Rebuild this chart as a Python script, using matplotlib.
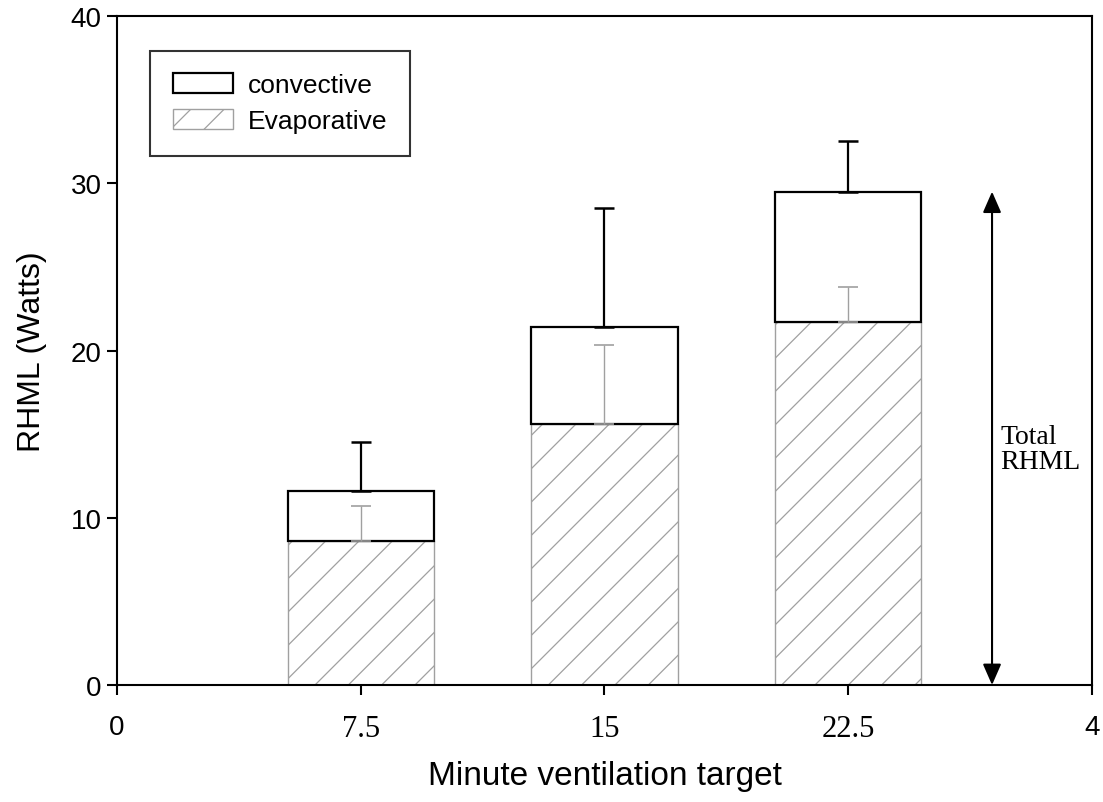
import matplotlib
matplotlib.use("Agg")
import matplotlib.pyplot as plt
from matplotlib.patches import FancyArrowPatch
import numpy as np

# Data
categories = ["7.5", "15", "22.5"]
evaporative = [8.6, 15.6, 21.7]
evaporative_err = [2.1, 4.7, 2.1]
total = [11.6, 21.4, 29.5]
total_err = [2.9, 7.1, 3.0]
convective = [t - e for t, e in zip(total, evaporative)]

SANS = "Liberation Sans"
SERIF = "Liberation Serif"
plt.rcParams["font.family"] = SANS
plt.rcParams["hatch.linewidth"] = 0.9

fig = plt.figure(figsize=(11.03, 8.03), dpi=100)
ax = fig.add_axes([0.1061, 0.1457, 0.8839, 0.8331])

x = np.arange(1, len(categories) + 1)
width = 0.6
grey = "#a0a0a0"

ax.bar(x, evaporative, width, color="white", edgecolor=grey, hatch="/",
       linewidth=1.0, label="Evaporative", zorder=2)
ax.bar(x, convective, width, bottom=evaporative, color="white",
       edgecolor="black", linewidth=1.6, label="convective", zorder=2)

ax.errorbar(x, evaporative, yerr=[np.zeros(len(x)), evaporative_err],
            fmt="none", ecolor=grey, elinewidth=1.0, capsize=7.5,
            capthick=1.2, zorder=3)
ax.errorbar(x, total, yerr=[np.zeros(len(x)), total_err], fmt="none",
            ecolor="black", elinewidth=1.6, capsize=7.5, capthick=1.8,
            zorder=3)

ax.set_xlim(0, 4)
ax.set_ylim(0, 40)
ax.set_yticks([0, 10, 20, 30, 40])
ax.set_xticks([0, 1, 2, 3, 4])
ax.set_xticklabels(["0"] + categories + ["4"])
for i, lab in enumerate(ax.get_xticklabels()):
    if 1 <= i <= len(categories):
        lab.set_fontfamily(SERIF)
        lab.set_fontsize(22)
    else:
        lab.set_fontsize(20)
ax.tick_params(axis="y", labelsize=20, length=7, width=1.5, direction="out", pad=4)
ax.tick_params(axis="x", length=7, width=1.5, direction="out", pad=14)
for s in ax.spines.values():
    s.set_linewidth(1.5)

ax.set_ylabel("RHML (Watts)", fontsize=23, labelpad=17)
ax.set_xlabel("Minute ventilation target", fontsize=24, labelpad=12)

# Total-load arrow beside the last bar
arrow = FancyArrowPatch((3.59, 0), (3.59, total[-1]),
                        arrowstyle="<|-|>,head_length=0.8,head_width=0.35",
                        mutation_scale=16, color="black", linewidth=1.5,
                        shrinkA=0, shrinkB=0, zorder=4)
ax.add_patch(arrow)
ax.text(3.625, 14.1, "Total\nRHML", fontfamily=SERIF, fontsize=20,
        ha="left", va="center", linespacing=1.0)

handles, labels = ax.get_legend_handles_labels()
leg = ax.legend(handles[::-1], labels[::-1], loc="upper left",
                bbox_to_anchor=(0.034, 0.948), fontsize=19, frameon=True,
                fancybox=False, edgecolor="black", handlelength=2.3,
                handleheight=0.75, handletextpad=0.55, labelspacing=0.45,
                borderpad=0.85, borderaxespad=0)
leg.get_frame().set_linewidth(1.5)

fig.savefig("out.png", dpi=100)
